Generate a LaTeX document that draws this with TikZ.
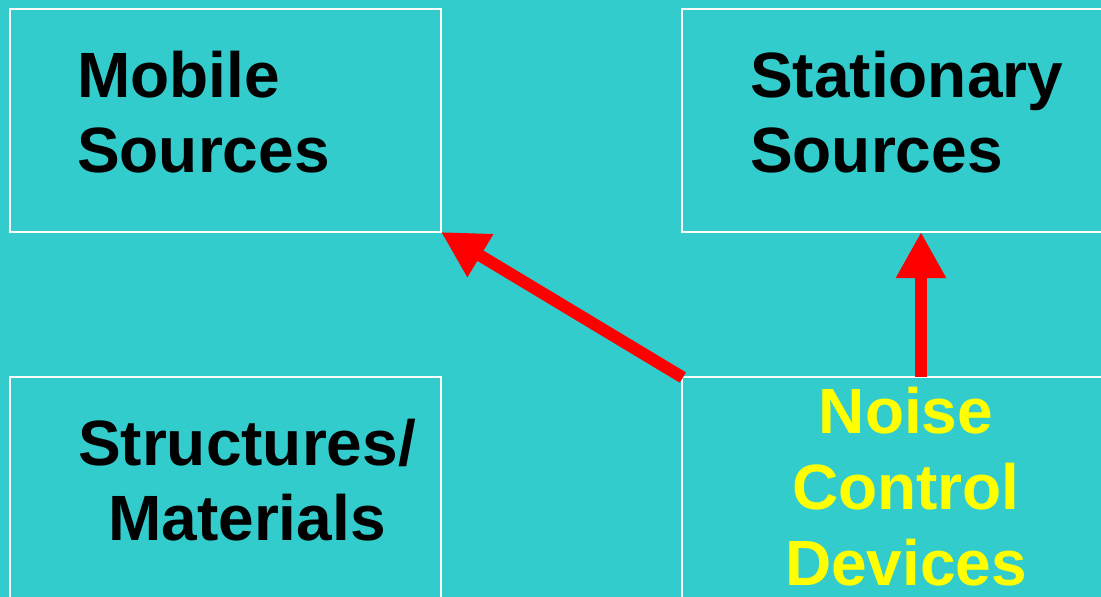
\documentclass[tikz,border=0pt]{standalone}
\usepackage{fontspec}
\setmainfont{Liberation Sans}
\usetikzlibrary{arrows.meta}
\definecolor{teal}{HTML}{33CCCC}
\definecolor{arrowred}{HTML}{FF0000}
\definecolor{labelyellow}{HTML}{FFFF00}
\begin{document}
\begin{tikzpicture}[x=1pt,y=-1pt,
  panel/.style={draw=white, line width=2pt, minimum width=431pt, minimum height=223pt,
    inner sep=0pt, outer sep=0pt, anchor=north west},
  lbl/.style={font=\fontsize{64}{75}\selectfont\bfseries, inner sep=0pt, text=black},
  hilite/.style={lbl, text=labelyellow},
  pointer/.style={draw=arrowred, line width=12pt,
    -{Triangle[length=46pt,width=47pt]}}]
  % background and frame of the page
  \fill[teal] (0,0) rectangle (1101,597);
  \useasboundingbox (0,0) rectangle (1101,597);
  \clip (0,0) rectangle (1101,597);

  % four panels
  \node[panel] (mobile) at (10,9) {};
  \node[panel] (stationary) at (682,9) {};
  \node[panel] (structures) at (10,377) {};
  \node[panel] (noise) at (682,377) {};

  % panel labels
  \node[lbl, anchor=base west] (mob1) at (77,97) {Mobile};
  \node[lbl, anchor=base west] (mob2) at (77,172) {Sources};
  \node[lbl, anchor=base west] (sta1) at (750,97) {Stationary};
  \node[lbl, anchor=base west] (sta2) at (750,172) {Sources};
  \node[lbl, anchor=base] (str1) at (247,465) {Structures/};
  \node[lbl, anchor=base] (str2) at (247,540) {Materials};
  \node[hilite, anchor=base] (noi1) at (906,433) {Noise};
  \node[hilite, anchor=base] (noi2) at (906,509) {Control};
  \node[hilite, anchor=base] (noi3) at (906,585) {Devices};

  % connectors
  \coordinate (upfoot) at ([xshift=239pt]noise.north west);
  \coordinate (uptip) at ([xshift=239pt]stationary.south west);
  \draw[pointer, shorten <=-1pt] (noise.north west) -- (mobile.south east);
  \draw[pointer] (upfoot) -- (uptip);
\end{tikzpicture}
\end{document}
